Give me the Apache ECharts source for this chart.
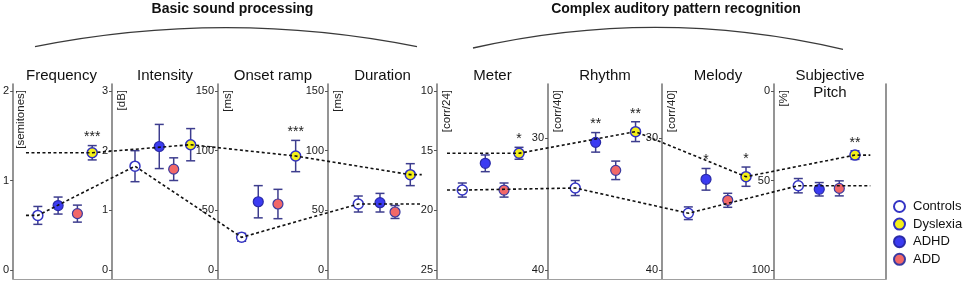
<!DOCTYPE html>
<html>
<head>
<meta charset="utf-8">
<script src="https://cdn.jsdelivr.net/npm/echarts@6.0.0/dist/echarts.min.js"></script>
<style>
  html, body { margin: 0; padding: 0; background: #fff; }
  #chart { width: 964px; height: 282px; }
</style>
</head>
<body>
<div id="chart"></div>
<script>
// panels
const tasks = ['Frequency', 'Intensity', 'Onset ramp', 'Duration', 'Meter', 'Rhythm', 'Melody', 'Subjective\nPitch'];
const units = ['[semitones]', '[dB]', '[ms]', '[ms]', '[corr/24]', '[corr/40]', '[corr/40]', '[%]'];
const tickValues = [[0, 1, 2], [0, 1, 2, 3], [0, 50, 100, 150], [0, 50, 100, 150], [10, 15, 20, 25], [30, 40], [30, 40], [0, 50, 100]];
// value shown at the top / bottom of each axis
const axisTop = [2, 3, 150, 150, 10, 26.44, 26.44, 0];
const axisBottom = [0, 0, 0, 0, 25, 40, 40, 100];
const sections = ['Basic sound processing', 'Complex auditory pattern recognition'];

// groups (order of the x slots)
const groups = ['Controls', 'ADHD', 'ADD', 'Dyslexia'];
const controlsMean = [0.61, 1.74, 27.4, 55.3, 18.30, 33.79, 35.70, 52.9];
const controlsErr = [0.10, 0.26, 3.3, 6.7, 0.59, 0.57, 0.48, 4.0];
const adhdMean = [0.72, 2.07, 57.2, 56.4, 16.06, 30.33, 33.13, 54.9];
const adhdErr = [0.095, 0.37, 13.5, 7.8, 0.70, 0.74, 0.82, 3.75];
const addMean = [0.63, 1.69, 55.3, 48.6, 18.30, 32.45, 34.72, 54.4];
const addErr = [0.095, 0.19, 12.3, 5.4, 0.59, 0.70, 0.53, 4.2];
const dyslexiaMean = [1.31, 2.10, 95.5, 79.9, 15.22, 29.52, 32.93, 35.8];
const dyslexiaErr = [0.08, 0.27, 13.1, 9.2, 0.50, 0.75, 0.73, 2.4];
const adhdStars = ['', '', '', '', '', '**', '*', ''];
const dyslexiaStars = ['***', '', '***', '', '*', '**', '*', '**'];

// x slot of each group inside a panel (0-100 scale)
const xSlots = [
  [25, 45.5, 65, 80], [21.7, 44.6, 58.2, 74.2], [21.5, 36.6, 54.5, 70.6], [27.8, 47.7, 61.5, 75.5],
  [22.8, 43.5, 60.4, 73.9], [23.9, 41.8, 59.4, 76.8], [23.5, 39.3, 58.7, 75], [21.7, 40.4, 58.3, 72.3]
];

const means = [controlsMean, adhdMean, addMean, dyslexiaMean];
const errs = [controlsErr, adhdErr, addErr, dyslexiaErr];
const stars = [null, adhdStars, null, dyslexiaStars];

const FONT = 'Liberation Sans, Arial, sans-serif';
const edges = [11, 112, 218, 328, 437, 548, 662, 774, 886];
const gridTop = 84, gridBottom = 279, yTopPx = 91, yBotPx = 270;
const groupStyle = {
  Controls: { color: '#ffffff', borderColor: '#3434c4', borderWidth: 1.5 },
  ADHD: { color: '#3b3bf2', borderColor: '#2a2aa8', borderWidth: 1.2 },
  ADD: { color: '#f26868', borderColor: '#3a3aa0', borderWidth: 1.2 },
  Dyslexia: { color: '#f4f018', borderColor: '#3030c0', borderWidth: 1.5 }
};
const barColor = '#3d3d8e';

const chart = echarts.init(document.getElementById('chart'));

const grids = [], xAxes = [], yAxes = [], series = [], graphics = [];

tasks.forEach((task, i) => {
  const left = edges[i], width = edges[i + 1] - edges[i];
  grids.push({ left: left, top: gridTop, width: width, height: gridBottom - gridTop });
  xAxes.push({
    type: 'value', gridIndex: i, min: 0, max: 100,
    axisLine: { show: true, onZero: false, lineStyle: { color: '#a0a0a0', width: 1.2 } },
    axisTick: { show: false }, axisLabel: { show: false }, splitLine: { show: false }
  });
  const d = (axisBottom[i] - axisTop[i]) / (yBotPx - yTopPx);
  const topV = axisTop[i] - (yTopPx - gridTop) * d;
  const botV = axisBottom[i] + (gridBottom - yBotPx) * d;
  const inv = axisTop[i] < axisBottom[i];
  yAxes.push({
    type: 'value', gridIndex: i,
    min: Math.min(topV, botV), max: Math.max(topV, botV), inverse: inv,
    axisLine: { show: true, onZero: false, lineStyle: { color: '#7a7a7a', width: 1.6 } },
    axisTick: { show: true, customValues: tickValues[i], length: 3, lineStyle: { color: '#555', width: 1 } },
    axisLabel: { customValues: tickValues[i], fontSize: 11, color: '#1a1a1a', margin: 4, fontFamily: FONT },
    splitLine: { show: false }
  });

  // error bars (+ significance stars)
  const errData = groups.map((g, k) => [xSlots[i][k], means[k][i] - errs[k][i], means[k][i] + errs[k][i]]);
  series.push({
    type: 'custom', xAxisIndex: i, yAxisIndex: i, z: 2, silent: true,
    data: errData,
    renderItem: (params, api) => {
      const k = params.dataIndex;
      const x = api.value(0);
      const p1 = api.coord([x, api.value(1)]);
      const p2 = api.coord([x, api.value(2)]);
      const top = Math.min(p1[1], p2[1]);
      const cap = 4.5;
      const st = { stroke: barColor, lineWidth: 1.5 };
      const children = [
        { type: 'line', shape: { x1: p1[0], y1: p1[1], x2: p2[0], y2: p2[1] }, style: st },
        { type: 'line', shape: { x1: p1[0] - cap, y1: p1[1], x2: p1[0] + cap, y2: p1[1] }, style: st },
        { type: 'line', shape: { x1: p2[0] - cap, y1: p2[1], x2: p2[0] + cap, y2: p2[1] }, style: st }
      ];
      const s = stars[k] ? stars[k][i] : '';
      if (s) {
        children.push({
          type: 'text', x: p1[0], y: top - 1,
          style: { text: s, font: '14px ' + FONT, fill: '#222', align: 'center', verticalAlign: 'bottom',
                   textAlign: 'center', textVerticalAlign: 'bottom' }
        });
      }
      return { type: 'group', children: children };
    }
  });

  // group means
  groups.forEach((g, k) => {
    series.push({
      type: 'scatter', name: g, xAxisIndex: i, yAxisIndex: i, z: 3,
      symbol: 'circle', symbolSize: 10,
      itemStyle: Object.assign({ opacity: 1 }, groupStyle[g]),
      data: [[xSlots[i][k], means[k][i]]]
    });
  });

  // panel title & unit label
  graphics.push({
    type: 'text', x: left + width / 2, y: 67, silent: true,
    style: { text: task, font: '15px ' + FONT, fill: '#111', align: 'center', verticalAlign: 'top',
             textAlign: 'center', textVerticalAlign: 'top', lineHeight: 17 }
  });
  graphics.push({
    type: 'text', x: left + 9.5, y: 90, rotation: Math.PI / 2, silent: true,
    style: { text: units[i], font: '11.5px ' + FONT, fill: '#222', align: 'right', verticalAlign: 'middle',
             textAlign: 'right', textVerticalAlign: 'middle' }
  });
});

// right border of the last panel
yAxes.push({
  type: 'value', gridIndex: 7, position: 'right', min: yAxes[7].min, max: yAxes[7].max,
  axisLine: { show: true, onZero: false, lineStyle: { color: '#7a7a7a', width: 1.6 } },
  axisTick: { show: false }, axisLabel: { show: false }, splitLine: { show: false }
});

// section headers with arcs
graphics.push(
  { type: 'text', x: 232.5, y: 9, silent: true,
    style: { text: sections[0], font: 'bold 14px ' + FONT, fill: '#111', align: 'center', verticalAlign: 'middle',
             textAlign: 'center', textVerticalAlign: 'middle' } },
  { type: 'text', x: 676, y: 9, silent: true,
    style: { text: sections[1], font: 'bold 14px ' + FONT, fill: '#111', align: 'center', verticalAlign: 'middle',
             textAlign: 'center', textVerticalAlign: 'middle' } },
  { type: 'bezierCurve', silent: true,
    shape: { x1: 35, y1: 46.7, x2: 417, y2: 46.7, cpx1: 226, cpy1: 8.7 },
    style: { stroke: '#3a3a3a', lineWidth: 1.3, fill: null } },
  { type: 'bezierCurve', silent: true,
    shape: { x1: 473, y1: 48, x2: 843, y2: 49.3, cpx1: 658, cpy1: 6 },
    style: { stroke: '#3a3a3a', lineWidth: 1.3, fill: null } }
);

const option = {
  animation: false,
  backgroundColor: '#ffffff',
  textStyle: { fontFamily: FONT },
  grid: grids,
  xAxis: xAxes,
  yAxis: yAxes,
  legend: {
    data: ['Controls', 'Dyslexia', 'ADHD', 'ADD'],
    orient: 'vertical', left: 888, top: 195,
    icon: 'circle', itemWidth: 11, itemHeight: 11, itemGap: 4.6,
    textStyle: { fontSize: 13, color: '#111', fontFamily: FONT, padding: [0, 0, 0, 3] },
    selectedMode: false
  },
  series: series,
  graphic: graphics
};
chart.setOption(option);

// dashed lines linking Controls and Dyslexia means across panels
const lineStart = [13, 9];
const lineEnd = [86, 86];
const sectionPanels = [[0, 1, 2, 3], [4, 5, 6, 7]];
const lines = [];
[0, 3].forEach(k => {
  sectionPanels.forEach((panels, s) => {
    const first = panels[0], last = panels[panels.length - 1];
    const pts = [chart.convertToPixel({ gridIndex: first }, [lineStart[s], means[k][first]])];
    panels.forEach(i => pts.push(chart.convertToPixel({ gridIndex: i }, [xSlots[i][k], means[k][i]])));
    pts.push(chart.convertToPixel({ gridIndex: last }, [lineEnd[s], means[k][last]]));
    lines.push({
      type: 'polyline', silent: true, z: 100,
      shape: { points: pts },
      style: { stroke: '#111', lineWidth: 1.6, lineDash: [3, 2.5], fill: null }
    });
  });
});
chart.setOption({ graphic: graphics.concat(lines) });
</script>
</body>
</html>
